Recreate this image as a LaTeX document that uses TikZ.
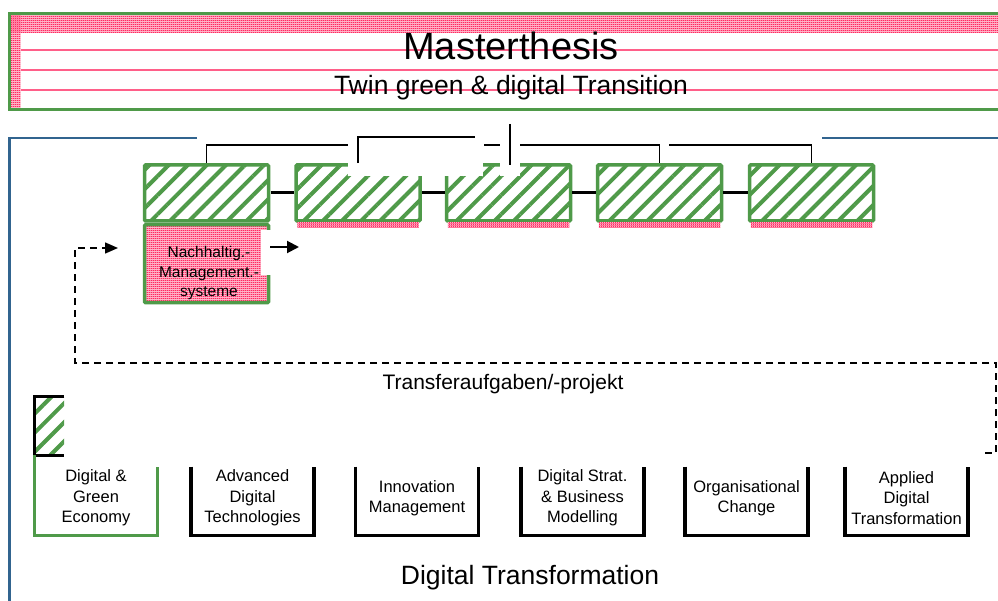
\documentclass[tikz,border=0pt]{standalone}
\usepackage{fontspec}
\setmainfont{Liberation Sans}
\usetikzlibrary{patterns.meta,arrows.meta}

\definecolor{hatchgreen}{HTML}{4F9A49}
\definecolor{checkpink}{HTML}{FF2A62}
\definecolor{frameblue}{HTML}{31648F}

% fine red/white checker
\tikzdeclarepattern{
  name=checks,
  type=colored,
  bounding box={(0pt,0pt) and (2pt,2pt)},
  tile size={(2pt,2pt)},
  code={\fill [checkpink] (0pt,0pt) rectangle (2pt,2pt); \fill [white] (0pt,0pt) rectangle (1pt,1pt);}
}

\begin{document}
\begin{tikzpicture}[x=1pt, y=-1pt, thick]

    \tikzset{hatchbox/.style={%
      draw=hatchgreen,%
      line width=3.5pt,%
      rounded corners=1pt,%
      inner sep=0pt,%
      minimum width=124pt,%
      minimum height=56pt,%
      pattern={Lines[angle=45, distance=13.5pt, line width=4pt]},%
      pattern color=hatchgreen}%
    };

    \tikzset{checkbox/.style={hatchbox, pattern=checks, minimum height=78pt}};
    \tikzset{module/.style={inner sep=0pt, minimum width=122pt, minimum height=68pt}};
    \tikzset{modtext/.style={align=center, font=\fontsize{16.5}{20.5}\selectfont}};
    \tikzset{branch/.style={line width=1.5pt}};
    \tikzset{chain/.style={line width=3pt}};
    \tikzset{transfer/.style={dashed, dash pattern=on 7pt off 5pt, line width=1.5pt, -{Triangle[length=13pt, width=11pt]}}};

    \useasboundingbox (0,0) rectangle (998,601);

    %%%%%%%%%%%%%%%
    %   banner    %
    %%%%%%%%%%%%%%%
    \fill [pattern=checks] (9,15) rectangle (1000,33);
    \fill [pattern=checks] (9,15) rectangle (20.5,109);
    \foreach \y in {50.5, 70.5, 90}
      \draw [checkpink!75, line width=2pt] (20.5,\y) -- (1000,\y);
    \node (title) at (511,46) {\fontsize{38}{42}\selectfont Masterthesis};
    \node (subtitle) at (511,88) {\fontsize{26.5}{30}\selectfont Twin green \& digital Transition};
    \draw [hatchgreen, line width=3pt] (9,14) rectangle (1002,109.5);

    %%%%%%%%%%%%%%%
    %   frame     %
    %%%%%%%%%%%%%%%
    \draw [frameblue, line width=2.5pt] (197,138) -- (9.5,138) -- (9.5,605);
    \draw [frameblue, line width=2.5pt] (822,138) -- (1002,138);

    %%%%%%%%%%%%%%%
    %  modules    %
    %%%%%%%%%%%%%%%
    \node [hatchbox] (mod1) at (206.5,193) {};
    \node [checkbox, anchor=north] (nms) at (mod1.south) {};
    \fill [white] (261,230) rectangle (276,275);
    \node [align=center, font=\fontsize{15.5}{19.5}\selectfont] (nmstext) at (209,273)
      {Nachhaltig.-\\Management.-\\systeme};

    \foreach \n/\x in {2/358, 3/508.5, 4/659.5, 5/811.5} {
      \node [hatchbox] (mod\n) at (\x,193) {};
      \fill [pattern=checks]
        ([xshift=3pt]mod\n.south west) rectangle ([xshift=-3pt, yshift=-5pt]mod\n.south east);
    }

    \fill [white] (348,150) rectangle (424,176.5);
    \fill [white] (441,150) rectangle (483,176.5);
    \fill [white] (500,140) rectangle (520,176.5);

    \foreach \a/\b in {1/2, 2/3, 3/4, 4/5}
      \draw [chain] (mod\a) -- (mod\b);

    \coordinate (root) at (510,124);
    \draw [branch] (mod1.north) -- ++(0,-18) -- (348,145);
    \draw [branch] (mod2.north) -- (358,137) -- (475,137);
    \draw [branch] (484,145) -- (500,145);
    \draw [branch] (520,145) -- (mod4.north |- 0,145) -- (mod4.north);
    \draw [branch] (669,145) -- (mod5.north |- 0,145) -- (mod5.north);
    \draw [branch] (root) -- (510,165);

    %%%%%%%%%%%%%%%
    %  transfer   %
    %%%%%%%%%%%%%%%
    \coordinate (nout) at (299,247);
    \draw [line width=2pt, -{Triangle[length=12pt, width=12pt]}] (nms.east |- nout) -- (nout);

    \coordinate (tstart) at (985,453);
    \coordinate (tin) at (118,248);
    \draw [transfer] (tstart) -- (996,453) -- (996,363) -- (75,363) -- (75,248) -- (tin);
    \node (tlabel) at (503,384) {\fontsize{21}{24}\selectfont Transferaufgaben/-projekt};

    %%%%%%%%%%%%%%%
    %  courses    %
    %%%%%%%%%%%%%%%
    \node [inner sep=0pt, minimum width=29pt, minimum height=58pt,
      pattern={Lines[angle=45, distance=13.5pt, line width=4pt]}, pattern color=hatchgreen] (tag) at (49.5,426) {};
    \draw [line width=3.5pt] (tag.north east) -- (tag.north west) -- (tag.south west) -- (tag.south east);

    \foreach \n/\x/\c/\txt in {%
      1/96/hatchgreen/{Digital \&\\Green\\Economy},%
      2/252.5/black/{Advanced\\Digital\\Technologies},%
      3/417/black/{Innovation\\Management},%
      4/582.5/black/{Digital Strat.\\\& Business\\Modelling},%
      5/746.5/black/{Organisational\\Change},%
      6/906.5/black/{Applied\\Digital\\Transformation}} {
      \node [module] (m\n) at (\x,501) {};
      \draw [line width=3.3pt, draw=\c] (m\n.north west) -- (m\n.south west) -- (m\n.south east) -- (m\n.north east);
      \node [modtext] at (\x,498) {\txt};
    }
    \draw [hatchgreen, line width=3.3pt] (tag.south west) -- (m1.north west);

    \node (dt) at (530,578) {\fontsize{26.5}{30}\selectfont Digital Transformation};

  \end{tikzpicture}
\end{document}
